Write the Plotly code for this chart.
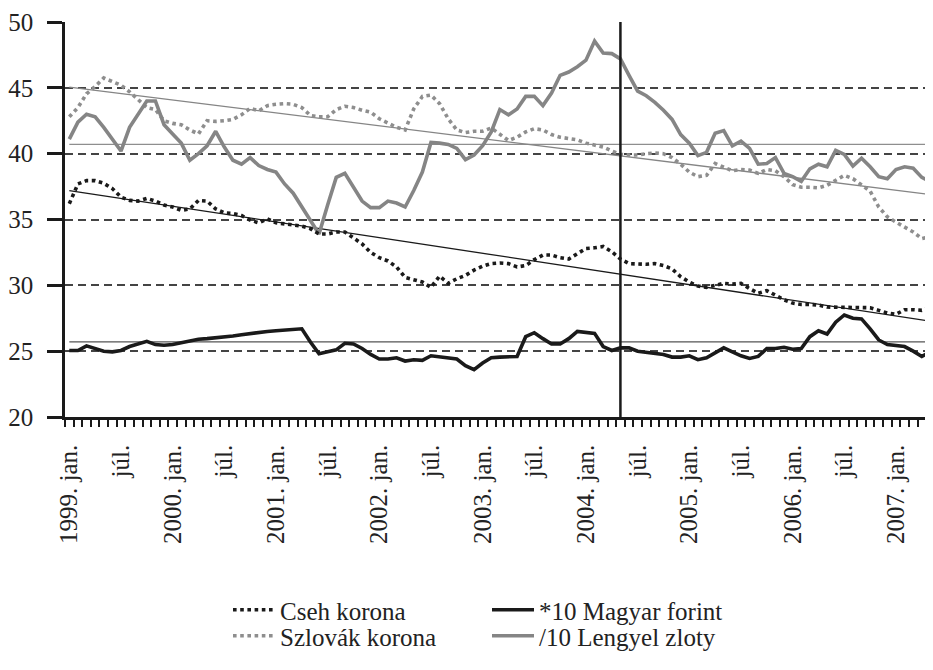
import plotly.graph_objects as go

# ---------------- data ----------------
years = [1999, 2000, 2001, 2002, 2003, 2004, 2005, 2006, 2007]
month_names = ["jan.", "febr.", "márc.", "ápr.", "máj.", "jún.",
               "júl.", "aug.", "szept.", "okt.", "nov.", "dec."]
n_months = 101  # 1999. jan. – 2007. máj.

months = []
for y in years:
    for m in month_names:
        months.append(f"{y}. {m}")
months = months[:n_months]

cseh_korona = [
    36.2, 37.7, 37.95, 37.95, 37.75, 37.35, 36.7, 36.45, 36.4, 36.6,
    36.4, 36.1, 35.95, 35.7, 35.8, 36.45, 36.4, 35.8, 35.5, 35.45,
    35.3, 34.95, 34.75, 35.05, 34.75, 34.65, 34.6, 34.5, 34.3, 33.9,
    33.9, 34.05, 34.05, 33.6, 33.15, 32.5, 32.1, 31.85, 31.4, 30.6,
    30.4, 30.25, 29.85, 30.7, 30.15, 30.5, 30.75, 31.15, 31.45, 31.65,
    31.7, 31.65, 31.4, 31.5, 31.95, 32.3, 32.3, 32.1, 32.0, 32.4,
    32.8, 32.85, 32.95, 32.55, 32.0, 31.65, 31.6, 31.6, 31.65, 31.5,
    31.25, 30.65, 30.25, 29.95, 29.85, 30.0, 30.15, 30.1, 30.15, 29.75,
    29.4, 29.6, 29.25, 28.9, 28.65, 28.55, 28.55, 28.5, 28.35, 28.35,
    28.35, 28.3, 28.3, 28.3, 28.1, 27.9, 27.8, 28.15, 28.15, 28.1,
    28.3]

szlovak_korona = [
    42.8, 43.5, 44.55, 45.1, 45.75, 45.5, 45.2, 44.7, 44.1, 43.5,
    43.35, 42.5, 42.3, 42.2, 41.8, 41.5, 42.5, 42.45, 42.5, 42.6,
    42.95, 43.45, 43.25, 43.65, 43.75, 43.8, 43.75, 43.5, 42.9, 42.8,
    42.8, 43.35, 43.6, 43.5, 43.3, 43.15, 42.65, 42.3, 42.0, 41.8,
    43.4, 44.35, 44.45, 43.8, 42.65, 41.8, 41.6, 41.7, 41.7, 41.95,
    41.5, 41.0, 41.25, 41.65, 41.9, 41.8, 41.45, 41.25, 41.15, 41.05,
    40.8, 40.65, 40.5, 40.2, 39.95, 39.9, 39.9, 40.0, 40.05, 40.0,
    39.7, 39.2, 38.6, 38.25, 38.35, 39.25, 39.0, 38.7, 38.8, 38.75,
    38.5, 38.8, 38.7, 38.25, 37.65, 37.45, 37.45, 37.4, 37.6, 37.95,
    38.35, 38.1, 37.6, 37.15, 35.95, 35.2, 34.8, 34.45, 34.05, 33.55,
    33.7]

magyar_forint_x10 = [
    25.05, 25.05, 25.4, 25.2, 25.0, 24.95, 25.05, 25.35, 25.55, 25.75,
    25.5, 25.45, 25.5, 25.65, 25.75, 25.9, 25.95, 26.0, 26.05, 26.15,
    26.25, 26.35, 26.45, 26.5, 26.55, 26.6, 26.65, 26.7, 25.7, 24.8,
    24.95, 25.1, 25.6, 25.55, 25.2, 24.75, 24.4, 24.4, 24.5, 24.25,
    24.35, 24.3, 24.65, 24.55, 24.45, 24.4, 23.9, 23.6, 24.1, 24.5,
    24.55, 24.55, 24.6, 26.1, 26.4, 25.95, 25.55, 25.55, 25.95, 26.5,
    26.45, 26.35, 25.35, 25.05, 25.25, 25.25, 25.0, 24.9, 24.85, 24.75,
    24.55, 24.55, 24.65, 24.35, 24.5, 24.85, 25.25, 24.95, 24.65, 24.45,
    24.6, 25.2, 25.2, 25.3, 25.15, 25.2, 26.1, 26.55, 26.3, 27.2,
    27.75, 27.5, 27.45, 26.7, 25.85, 25.5, 25.45, 25.35, 25.0, 24.6,
    24.95]

lengyel_zloty_per10 = [
    41.1, 42.4, 43.0, 42.8, 42.0, 41.1, 40.2, 42.0, 43.0, 44.0,
    44.0, 42.2, 41.5, 40.8, 39.5, 40.0, 40.6, 41.7, 40.5, 39.5,
    39.2, 39.7, 39.1, 38.8, 38.6, 37.7, 37.0, 36.0, 34.9, 33.9,
    36.1, 38.2, 38.5, 37.5, 36.4, 35.9, 35.9, 36.4, 36.25, 35.95,
    37.2, 38.6, 40.85, 40.8, 40.7, 40.4, 39.55, 39.9, 40.6, 41.65,
    43.35, 42.95, 43.4, 44.35, 44.35, 43.65, 44.6, 45.95, 46.2, 46.6,
    47.1, 48.55, 47.65, 47.6, 47.2, 45.95, 44.75, 44.4, 43.9, 43.3,
    42.6, 41.45, 40.8, 39.85, 40.1, 41.55, 41.75, 40.6, 40.95, 40.4,
    39.2, 39.25, 39.7, 38.5, 38.25, 37.9, 38.85, 39.2, 39.0, 40.25,
    39.95, 39.05, 39.65, 39.0, 38.25, 38.1, 38.8, 39.0, 38.9, 38.2,
    37.85]

# linear trends (value at first and last month)
cseh_trend = [37.2, 27.27]
szlovak_trend = [45.05, 36.9]
# reference levels
zloty_szint = 40.7
forint_szint = 25.7
# event: EU accession
esemeny_honap = "2004. máj."

# ---------------- figure ----------------
x = list(range(len(months)))
tick_idx = [i for i, m in enumerate(months) if m.endswith(" jan.") or m.endswith(" júl.")]
tick_txt = [months[i] if months[i].endswith("jan.") else "júl." for i in tick_idx]

BLACK = "#1a1a1a"
GRAY = "#858585"
LGRAY = "#8e8e8e"
FONT = "Liberation Serif"
W, H = 925, 662  # the page adds an 8px body margin around the figure

fig = go.Figure()

ends = [x[0], x[-1]]
fig.add_trace(go.Scatter(x=ends, y=[zloty_szint] * 2, mode="lines",
                         line=dict(color=LGRAY, width=1.3), showlegend=False, hoverinfo="skip"))
fig.add_trace(go.Scatter(x=ends, y=[forint_szint] * 2, mode="lines",
                         line=dict(color="#555555", width=1.3), showlegend=False, hoverinfo="skip"))
fig.add_trace(go.Scatter(x=ends, y=szlovak_trend, mode="lines",
                         line=dict(color=GRAY, width=1.3), showlegend=False, hoverinfo="skip"))
fig.add_trace(go.Scatter(x=ends, y=cseh_trend, mode="lines",
                         line=dict(color=BLACK, width=1.3), showlegend=False, hoverinfo="skip"))

fig.add_trace(go.Scatter(x=x, y=szlovak_korona, mode="lines", name="Szlovák korona",
                         line=dict(color=LGRAY, width=3.6, dash="dot"), legend="legend3"))
fig.add_trace(go.Scatter(x=x, y=lengyel_zloty_per10, mode="lines", name="/10 Lengyel zloty",
                         line=dict(color=GRAY, width=3.6), legend="legend4"))
fig.add_trace(go.Scatter(x=x, y=cseh_korona, mode="lines", name="Cseh korona",
                         line=dict(color=BLACK, width=3.6, dash="dot"), legend="legend"))
fig.add_trace(go.Scatter(x=x, y=magyar_forint_x10, mode="lines", name="*10 Magyar forint",
                         line=dict(color=BLACK, width=3.6), legend="legend2"))

ev = months.index(esemeny_honap)
fig.add_shape(type="line", xref="x", yref="y", x0=ev, x1=ev, y0=20, y1=50,
              line=dict(color=BLACK, width=2.5))

leg_common = dict(xref="container", yref="container", xanchor="left", yanchor="middle",
                  orientation="h",
                  bgcolor="rgba(0,0,0,0)", font=dict(family=FONT, size=25, color="#222"),
                  itemwidth=42)
row1 = 1 - 602 / H
row2 = 1 - 628 / H
col1 = 220 / W
col2 = 479 / W
fig.update_layout(
    width=W, height=H,
    margin=dict(l=57, r=0, t=14, b=253),
    plot_bgcolor="white", paper_bgcolor="white",
    font=dict(family=FONT, size=25, color="#222"),
    legend=dict(x=col1, y=row1, **leg_common),
    legend2=dict(x=col2, y=row1, **leg_common),
    legend3=dict(x=col1, y=row2, **leg_common),
    legend4=dict(x=col2, y=row2, **leg_common),
    xaxis=dict(range=[-0.5, 100.3], tickmode="array", tickvals=tick_idx, ticktext=tick_txt,
               tickangle=-90, ticks="", showgrid=False, zeroline=False, automargin=False,
               tickfont=dict(family=FONT, size=25, color="#222"),
               showline=True, linecolor=BLACK, linewidth=2.5, ticklabelstandoff=15,
               minor=dict(ticks="outside", tick0=-0.5, dtick=1, ticklen=7, tickwidth=1.5,
                          tickcolor=BLACK, showgrid=False)),
    yaxis=dict(range=[20, 50], tick0=20, dtick=5, showgrid=True, gridcolor="#444444",
               griddash="8px,5px", gridwidth=1.5, zeroline=False, automargin=False,
               tickfont=dict(family=FONT, size=25, color="#222"),
               showline=True, linecolor=BLACK, linewidth=2.5,
               ticks="outside", ticklen=15, tickwidth=2.5, tickcolor=BLACK,
               ticklabelstandoff=9),
)

fig.write_html("out.html")
